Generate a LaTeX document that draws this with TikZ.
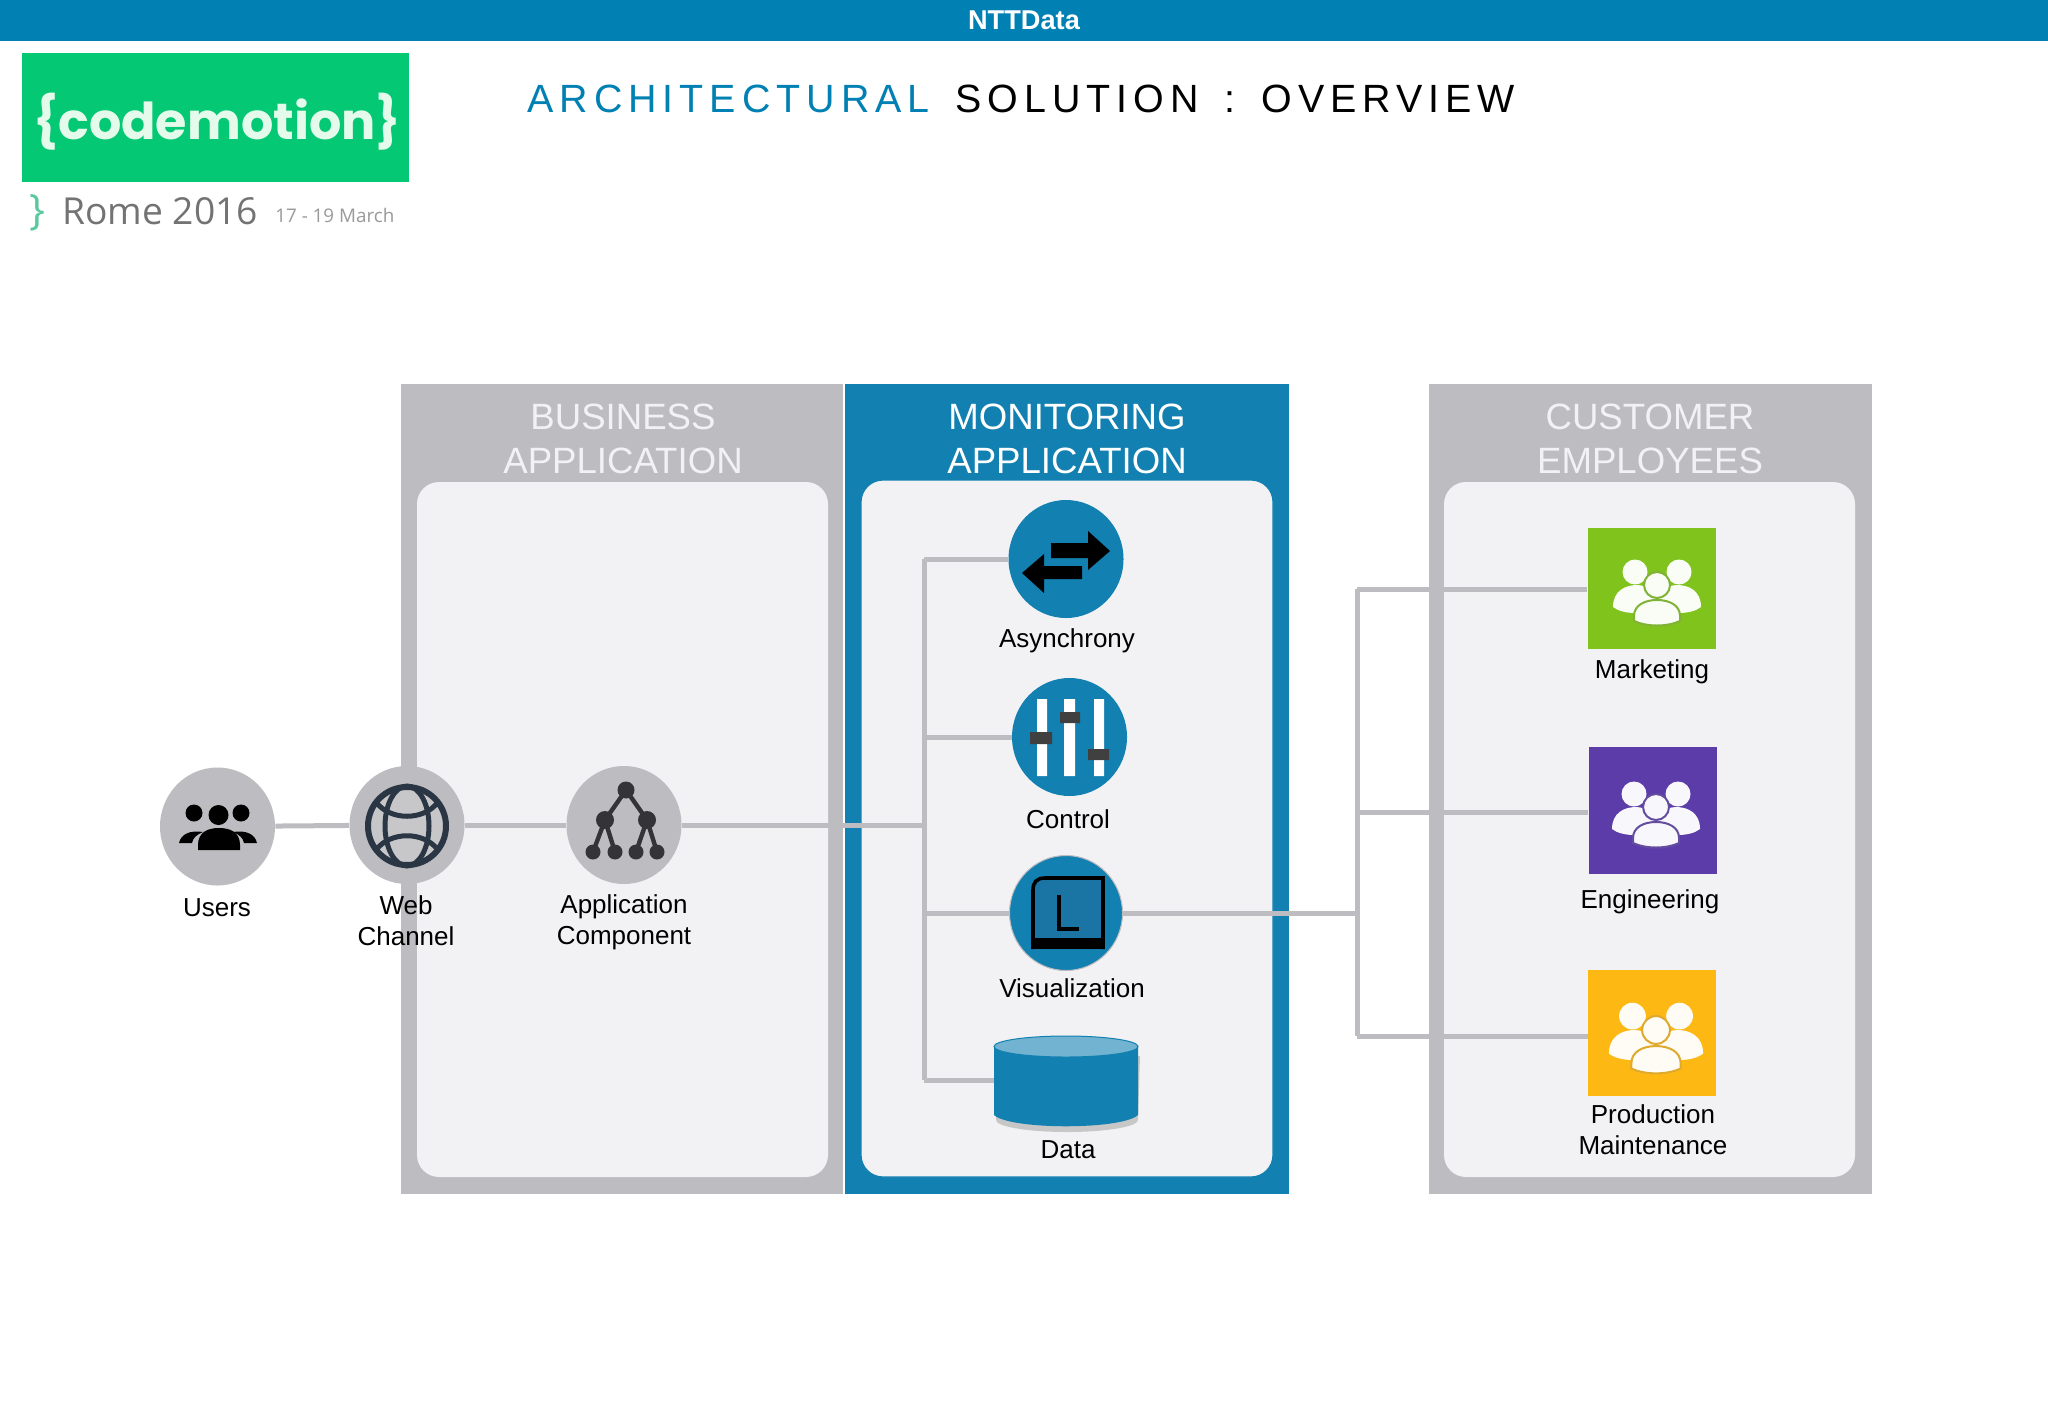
\documentclass[tikz,border=0pt]{standalone}
\usepackage{fontspec}
\setmainfont{Liberation Sans}
\newfontfamily\titlefont[LetterSpace=15.2]{Liberation Sans}
\newfontfamily\poppinsfont{Poppins}
\newfontfamily\opensansfont{Open Sans}
\usetikzlibrary{shapes.geometric,backgrounds}
\definecolor{barblue}{HTML}{0080B3}
\definecolor{panelblue}{HTML}{1280B0}
\definecolor{panelgray}{HTML}{BDBCC0}
\definecolor{innerbg}{HTML}{F2F2F5}
\definecolor{logogreen}{HTML}{04C873}
\definecolor{logotext}{HTML}{E4FBEC}
\definecolor{braceteal}{HTML}{5CC8A0}
\definecolor{mkgreen}{HTML}{7FC31C}
\definecolor{engpurple}{HTML}{5B3CA8}
\definecolor{prodyellow}{HTML}{FDB813}
\definecolor{icondark}{HTML}{2B3644}
\definecolor{treedark}{HTML}{333338}
\definecolor{vizfill}{HTML}{1A75A5}
\pgfdeclarelayer{panels}
\pgfdeclarelayer{lines}
\pgfsetlayers{panels,lines,main}
\tikzset{
  x=0.5pt,y=-0.5pt,
  conn/.style={draw=panelgray,line width=2.5pt},
  graycirc/.style={ellipse,fill=panelgray,minimum width=57.5pt,minimum height=59pt,inner sep=0pt},
  bluecirc/.style={ellipse,fill=panelblue,minimum width=57.5pt,minimum height=59pt,inner sep=0pt},
  lbl/.style={font=\fontsize{13}{15.5}\selectfont,align=center,text=black,inner sep=0pt},
  hdr/.style={font=\fontsize{18.3}{22}\selectfont,align=center,text=innerbg,inner sep=0pt},
  inner/.style={fill=innerbg,rounded corners=11pt},
  square/.style={minimum width=64pt,inner sep=0pt},
  grp/.pic={
    \path[fill=#1!4!white] (-22,-13) circle[radius=12.5] (22,-13) circle[radius=12.5];
    \path[fill=#1!4!white] (-44,22) .. controls (-44,6) and (-32,0) .. (-20,0) .. controls (-8,0) and (0,10) .. (0,22) .. controls (-10,30) and (-34,30) .. (-44,22) -- cycle;
    \path[fill=#1!4!white] (44,22) .. controls (44,6) and (32,0) .. (20,0) .. controls (8,0) and (0,10) .. (0,22) .. controls (10,30) and (34,30) .. (44,22) -- cycle;
    \path[draw=#1!75!gray,line width=1pt,fill=#1!4!white] (0,0) circle[radius=13];
    \path[draw=#1!75!gray,line width=1pt,fill=#1!4!white] (-23,31) .. controls (-23,20) and (-12,15) .. (0,15) .. controls (12,15) and (23,20) .. (23,31) -- (23,36) .. controls (10,42) and (-10,42) .. (-23,36) -- cycle;
  }
}
\begin{document}
\begin{tikzpicture}
\useasboundingbox (0,0) rectangle (2048,1418);
\begin{pgfonlayer}{panels}
  \fill[white] (0,0) rectangle (2048,1418);
  \fill[barblue] (0,0) rectangle (2048,41);
  \fill[logogreen] (22,53) rectangle (409,182);
  \fill[panelgray] (401,384) rectangle (843,1194);
  \fill[inner] (417,482) rectangle (828,1177);
  \fill[panelblue] (845,384) rectangle (1289,1194);
  \path[inner,draw=panelblue,line width=0.6pt] (861,480) rectangle (1273,1177);
  \fill[panelgray] (1429,384) rectangle (1872,1194);
  \fill[inner] (1444,482) rectangle (1855,1177);
\end{pgfonlayer}

% header, title, logo
\node[text=white,font=\bfseries\fontsize{13.6}{14}\selectfont,inner sep=0pt] (ntt) at (1024,20) {NTTData};
\node[anchor=base west,inner sep=0pt,text=barblue,font=\titlefont\fontsize{19.7}{24}\selectfont] (t1) at (527,112.5) {ARCHITECTURAL};
\node[anchor=base west,inner sep=0pt,text=black,font=\titlefont\fontsize{19.7}{24}\selectfont] (t2) at (955,112.5) {SOLUTION\hspace{4.5pt} : \hspace{4.5pt}OVERVIEW};
\node[text=logotext,inner sep=0pt,font=\poppinsfont\bfseries\fontsize{25.4}{30}\selectfont] (cm) at (217,122) {\{codemotion\}};
\node[anchor=base west,text=braceteal,inner sep=0pt,font=\opensansfont\fontsize{21}{24}\selectfont] (brace) at (29,224) {\}};
\node[anchor=base west,text=black!55,inner sep=0pt,font=\opensansfont\fontsize{18.6}{24}\selectfont] (rome) at (62,224) {Rome 2016};
\node[anchor=base west,text=black!40,inner sep=0pt,font=\opensansfont\fontsize{9.4}{10}\selectfont] (date) at (275,222) {17 - 19 March};

% panel headings
\node[hdr] (hbus) at (623,439) {BUSINESS\\APPLICATION};
\node[hdr,text=white] (hmon) at (1067,439) {MONITORING\\APPLICATION};
\node[hdr] (hcus) at (1650,439) {CUSTOMER\\EMPLOYEES};

% nodes
\node[graycirc] (users) at (217.5,826.5) {};
\node[graycirc] (web) at (407,825) {};
\node[graycirc] (app) at (624,825) {};
\node[bluecirc] (async) at (1066,559) {};
\node[bluecirc] (control) at (1069.5,737) {};
\node[bluecirc,draw=panelgray,line width=0.5pt,minimum width=56.5pt,minimum height=57.5pt] (viz) at (1066,913) {};
\node[inner sep=0pt,minimum width=72pt,minimum height=45pt] (data) at (1066,1081) {};
\node[square,fill=mkgreen,minimum height=60.5pt] (mk) at (1651.5,588.5) {};
\node[square,fill=engpurple,minimum height=63.5pt] (eng) at (1652.5,810.5) {};
\node[square,fill=prodyellow,minimum height=63pt] (prod) at (1652,1033) {};

% junctions
\coordinate (tA) at (924,559);
\coordinate (tC) at (924,737);
\coordinate (tB) at (924,825);
\coordinate (tV) at (924,913);
\coordinate (tD) at (924,1080);
\coordinate (rV) at (1357,913);
\coordinate (rM) at (1357,589);
\coordinate (rE) at (1357,812);
\coordinate (rP) at (1357,1036);

\begin{pgfonlayer}{lines}
  \draw[conn] (users) -- (web);
  \draw[conn] (web) -- (app);
  \draw[conn] (app) -- (tB);
  \draw[conn,line cap=square] (tA) -- (tD);
  \draw[conn] (async) -- (tA);
  \draw[conn] (control) -- (tC);
  \draw[conn] (viz) -- (tV);
  \draw[conn] (tD) -- (tD -| data.west);
  \draw[conn] (viz) -- (rV);
  \draw[conn,line cap=square] (rM) -- (rP);
  \draw[conn] (rM) -- (rM -| mk.west);
  \draw[conn] (rE) -- (rE -| eng.west);
  \draw[conn] (rP) -- (rP -| prod.west);
\end{pgfonlayer}

% labels
\node[lbl] (lusers) at (217,908) {Users};
\node[lbl] (lweb) at (406,921) {Web\\Channel};
\node[lbl] (lapp) at (624,922) {Application\\Component};
\node[lbl] (lasync) at (1067,641) {Asynchrony};
\node[lbl] (lcontrol) at (1068,819) {Control};
\node[lbl] (lviz) at (1072,988) {Visualization};
\node[lbl] (ldata) at (1068,1150) {Data};
\node[lbl] (lmk) at (1652,672) {Marketing};
\node[lbl] (leng) at (1650,902) {Engineering};
\node[lbl] (lprod) at (1653,1130) {Production\\Maintenance};

% users icon
\fill[black] (194,813) circle[radius=8.5] (218.5,815) circle[radius=10] (241,813) circle[radius=8.5];
\fill[black] (198,850) -- (198,845) .. controls (198,832) and (208,828) .. (219,828) .. controls (230,828) and (240,832) .. (240,845) -- (240,850) -- cycle;
\fill[black] (179,843) .. controls (181,834) and (190,830) .. (203,832) .. controls (196,835) and (193,838) .. (192,843) -- cycle;
\fill[black] (257,843) .. controls (255,834) and (246,830) .. (233,832) .. controls (240,835) and (243,838) .. (244,843) -- cycle;

% globe icon
\path[draw=icondark,line width=3pt,fill=panelgray!85!white] (407,826) circle[radius=39];
\draw[icondark,line width=2.5pt] (407,826) ellipse[x radius=22,y radius=40];
\draw[icondark,line width=2.5pt] (376,802) .. controls (390,821) and (424,821) .. (438,802);
\draw[icondark,line width=2.5pt] (376,850) .. controls (390,831) and (424,831) .. (438,850);

% tree icon
\draw[treedark,line width=2.2pt] (605,820) -- (626,790) -- (647,820);
\draw[treedark,line width=2.2pt] (593,852) -- (605,820) -- (615,852);
\draw[treedark,line width=2.2pt] (636,852) -- (647,820) -- (657,852);
\fill[treedark] (626,790) circle[radius=8.5] (605,820) circle[radius=9] (647,820) circle[radius=9]
  (593,852) circle[radius=7.5] (615,852) circle[radius=7.5] (636,852) circle[radius=7.5] (657,852) circle[radius=7.5];

% asynchrony arrows
\fill[black] (1051,543) -- (1088,543) -- (1088,531) -- (1110,551) -- (1088,570) -- (1088,558) -- (1051,558) -- cycle;
\fill[black] (1082,566) -- (1044,566) -- (1044,554) -- (1022,573) -- (1044,593) -- (1044,579) -- (1082,579) -- cycle;

% control sliders
\fill[white] (1037,699) rectangle (1047,776) (1064,699) rectangle (1075,776) (1094,699) rectangle (1104,776);
\fill[black!75] (1030,732) rectangle (1052,744) (1060,712) rectangle (1080,723) (1088,749) rectangle (1109,760);

% visualization icon
\fill[vizfill] (1033,949) -- (1033,888) [rounded corners=7pt] -- (1033,878) [sharp corners] -- (1103,878) -- (1103,949) -- cycle;
\draw[black,line width=1.8pt] (1033,949) -- (1033,890) .. controls (1033,882) and (1037,878) .. (1045,878) -- (1103,878) -- (1103,949);
\fill[black] (1032,938) rectangle (1104,949);
\draw[black,line width=1.7pt] (1059,895) -- (1059,929) -- (1079,929);

% data cylinder
\fill[black!22] (996,1056) -- (996,1120) arc[start angle=180,end angle=0,x radius=71,y radius=12] -- (1140,1056) -- cycle;
\fill[panelblue] (994,1046) -- (994,1115) .. controls (1010,1130) and (1122,1130) .. (1138,1115) -- (1138,1046) -- cycle;
\path[fill=panelblue!60!white,draw=panelblue,line width=0.5pt] (1066,1046.5) ellipse[x radius=72,y radius=10.5];

% group icons
\pic at (1657,585) {grp=mkgreen};
\pic at (1656,807) {grp=engpurple};
\pic[scale=1.07] at (1656,1030) {grp=prodyellow};
\end{tikzpicture}
\end{document}
